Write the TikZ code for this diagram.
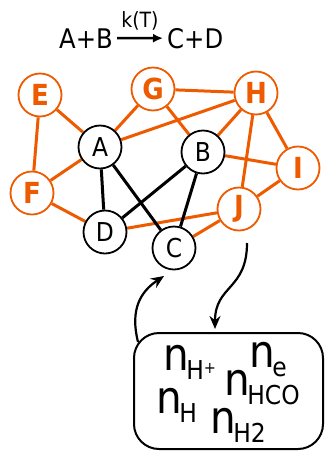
\documentclass[tikz,border=0pt]{standalone}
\usepackage{fontspec}
\setmainfont{DejaVu Sans Condensed}
\usetikzlibrary{arrows.meta}
\definecolor{orng}{RGB}{238,90,0}
\pgfdeclarelayer{bg}
\pgfsetlayers{bg,main}
\tikzset{
  blk/.style={circle, draw=black, line width=1.8pt, fill=white, minimum size=43pt, inner sep=0pt, font=\fontsize{26}{26}\selectfont},
  org/.style={circle, draw=orng, text=orng, line width=1.8pt, fill=white, minimum size=43pt, inner sep=0pt, font=\fontsize{29}{29}\selectfont\bfseries},
  oe/.style={draw=orng, line width=3pt},
  be/.style={draw=black, line width=3pt},
  flow/.style={line width=2.2pt, -{Stealth[length=13pt,width=11pt]}},
  term/.style={anchor=base west, inner sep=0pt, font=\fontsize{45}{45}\selectfont},
  ttl/.style={inner sep=0pt, font=\fontsize{27}{27}\selectfont},
}
\newcommand\sbs[1]{\kern-2.5pt\raisebox{-9pt}{\fontsize{26}{26}\selectfont #1}}
\begin{document}
\begin{tikzpicture}[x=1pt,y=-1pt]
\useasboundingbox (0,0) rectangle (326,451);
% title
\node[ttl, anchor=base east] (ab) at (113,48) {A+B};
\node[ttl, anchor=base west] (cd) at (167,48) {C+D};
\draw[line width=2.5pt, -{Latex[length=10pt,width=9pt]}] ([xshift=4pt]ab.east) -- ([xshift=-4pt]cd.west)
  node[midway, above=7pt, inner sep=0pt, font=\fontsize{21}{21}\selectfont] (k) {k(T)};
% nodes
\node[org] (E) at (40,95) {E};
\node[org] (G) at (153,89) {G};
\node[org] (H) at (256,93) {H};
\node[blk] (A) at (100,147) {A};
\node[blk] (B) at (203,152) {B};
\node[org] (I) at (298,168) {I};
\node[org] (F) at (32,193) {F};
\node[org] (J) at (239,209) {J};
\node[blk] (D) at (105,232) {D};
\node[blk] (C) at (174,248) {C};
\begin{pgfonlayer}{bg}
\draw[oe] (E) -- (A);
\draw[oe] (E) -- (F);
\draw[oe] (G) -- (A);
\draw[oe] (G) -- (H);
\draw[oe] (G) -- (B);
\draw[oe] (H) -- (A);
\draw[oe] (H) -- (B);
\draw[oe] (H) -- (I);
\draw[oe] (H) -- (J);
\draw[oe] (B) -- (I);
\draw[oe] (I) -- (J);
\draw[oe] (F) -- (A);
\draw[oe] (F) -- (D);
\draw[oe] (D) -- (J);
\draw[oe] (C) -- (J);
\draw[be] (A) -- (D);
\draw[be] (A) -- (C);
\draw[be] (B) -- (D);
\draw[be] (B) -- (C);
\end{pgfonlayer}
% box
\node[draw, line width=2pt, rounded corners=25pt, minimum width=189pt, minimum height=116pt, inner sep=0pt] (box) at (228.5,391) {};
\node[term] (n1) at (163,370) {n\sbs{H\raisebox{6pt}{\fontsize{16}{16}\selectfont +}}};
\node[term] (n2) at (249,367) {n\sbs{e}};
\node[term] (n3) at (224,395) {n\sbs{HCO}};
\node[term] (n4) at (156,413) {n\sbs{H}};
\node[term] (n5) at (210,433) {n\sbs{H2}};
% flow arrows
\coordinate (j1) at (247,243);
\coordinate (b1) at (215,329);
\draw[flow] (j1) .. controls (247,290) and (215,285) .. (b1);
\coordinate (b2) at (138,342);
\coordinate (c1) at (164,276);
\draw[flow] (b2) .. controls (130,310) and (140,292) .. (c1);
\end{tikzpicture}
\end{document}
